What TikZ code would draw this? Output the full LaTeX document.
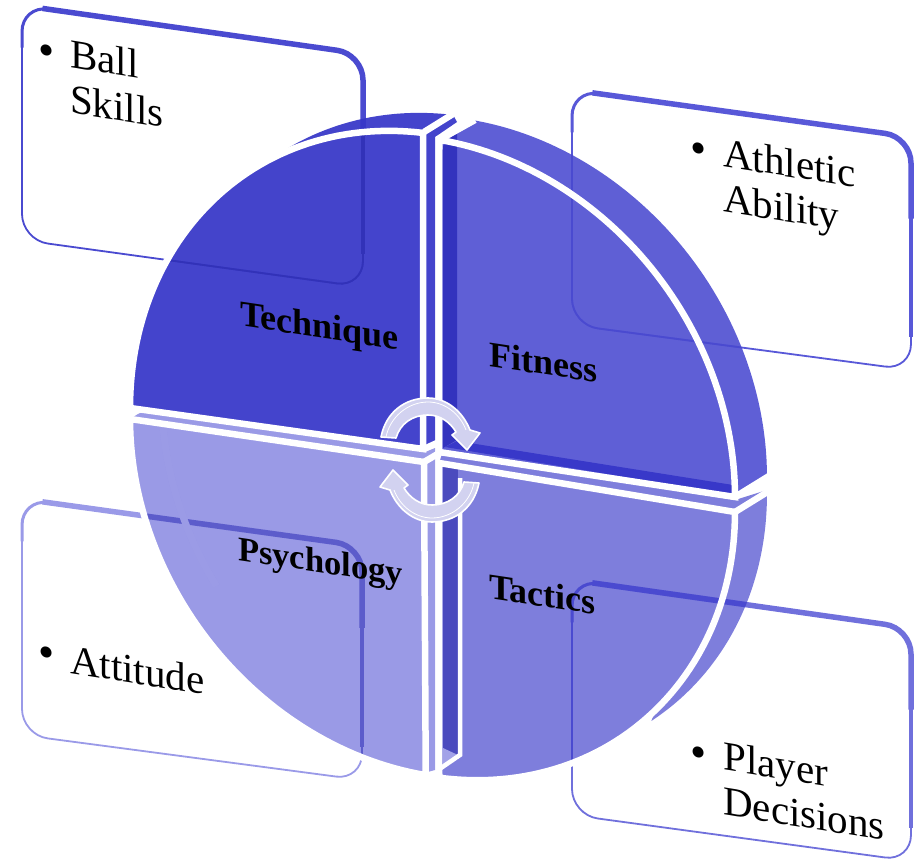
\documentclass[tikz,border=0pt]{standalone}
\usepackage{fontspec}
\usetikzlibrary{calc}
\setmainfont{Liberation Serif}
\definecolor{techc}{HTML}{3636C8}
\definecolor{fitc}{HTML}{5353D3}
\definecolor{psyc}{HTML}{9292E4}
\definecolor{tacc}{HTML}{7474D9}
\definecolor{boxa}{HTML}{4A4AD0}
\definecolor{boxb}{HTML}{9A9AE8}
\definecolor{boxc}{HTML}{5858D8}
\definecolor{boxd}{HTML}{7070DC}
\definecolor{arrowc}{HTML}{D2D2F0}
\newcommand{\rim}[5]{plot[domain=#4:#5,samples=60,variable=\t] ({#1+301*cos(\t)},{#2+#3*sin(\t)+45*cos(\t)})}
\newcommand{\rimto}[5]{-- plot[domain=#4:#5,samples=60,variable=\t] ({#1+301*cos(\t)},{#2+#3*sin(\t)+45*cos(\t)})}
% colour, then corners top left, top right, bottom right, bottom left
\newcommand{\cardlines}[5]{%
  \draw[cardline=#1] #2 -- #3 -- #4 -- #5 -- cycle;
  \draw[cardline=#1,line width=3pt] ($#5!0.82!#2$) -- #2 -- ($#2!0.2!#3$);
  \draw[cardline=#1,line width=5.5pt] ($#2!0.06!#3$) -- #3 -- ($#3!0.35!#4$);
  \draw[cardline=#1,line width=3.6pt] ($#3!0.2!#4$) -- ($#3!0.86!#4$);
}
\tikzset{
  cardline/.style={draw=#1,line width=1.8pt,rounded corners=26pt},
  whiteedge/.style={draw=white,line width=6.5pt,line join=miter},
  cardtext/.style={yslant=-0.16,transform shape,font=\fontsize{41}{45}\selectfont,align=left,anchor=west,text=black,inner sep=0pt},
  cardbullet/.style={yslant=-0.15,transform shape,font=\fontsize{46}{50}\selectfont,text=black,inner sep=0pt},
  pietext/.style={yslant=-0.15,transform shape,font=\fontsize{#1}{40}\selectfont\bfseries,anchor=west,text=black,inner sep=0pt},
  pietext/.default=36,
  spin/.style={fill=arrowc,draw=white,line width=1.6pt,line join=round},
  spinline/.style={draw=white,line width=0.8pt}
}
\begin{document}
\begin{tikzpicture}[x=1pt,y=-1pt]
\useasboundingbox (0,0) rectangle (914,861);
% cards
\fill[white,fill opacity=0.97,rounded corners=26pt] (22,5.5) -- (363,54) -- (363,287) -- (22,240) -- cycle;
\cardlines{boxa}{(22,5.5)}{(363,54)}{(363,287)}{(22,240)}
\fill[white,fill opacity=0.97,rounded corners=26pt] (572,90) -- (911,137) -- (911,370) -- (572,325) -- cycle;
\cardlines{boxc}{(572,90)}{(911,137)}{(911,370)}{(572,325)}
\cardlines{boxb}{(22,499)}{(362,546)}{(362,780)}{(22,735)}
\cardlines{boxd}{(572,580)}{(911,628)}{(911,861)}{(572,815)}
% Psychology
\fill[psyc,fill opacity=0.93]
  (424,462) \rimto{431}{464}{312}{91}{180} -- cycle
  (138,414) -- (147,410) -- (424,452) -- (435,448) -- (435,770) -- (424,773) -- (424,462) -- (130,419) -- cycle;
\begin{scope}
  \clip (424,462) \rimto{431}{464}{312}{91}{180} -- cycle;
  \cardlines{black!20!boxb!75!blue}{(22,499)}{(362,546)}{(362,780)}{(22,735)}
  \draw[draw=psyc!92!white,line width=7pt] \rim{463}{444}{312}{145}{192};
\end{scope}
% Tactics
\fill[tacc,fill opacity=0.93]
  (439,463) \rimto{434}{467}{310}{0}{89} -- cycle
  (735,512) -- (767,492) \rimto{466}{449}{310}{0}{52} -- cycle
  (442,454) -- (735,500) -- (767,490) -- (735,512) -- (439,463) -- cycle;
\begin{scope}
  \clip (439,463) \rimto{434}{467}{310}{0}{89} -- cycle
  (735,512) -- (767,492) \rimto{466}{449}{310}{0}{52} -- cycle;
  \cardlines{boxa}{(572,580)}{(911,628)}{(911,861)}{(572,815)}
\end{scope}
\fill[fill=fitc!90!black] (443,466) rectangle (458,760);
\fill[fill=psyc!85!white] (443,748) -- (458,755) -- (443,765) -- cycle;
\draw[whiteedge,line width=4.5pt] (460,478) -- (460,755) -- (441,768);
% Technique
\fill[techc,fill opacity=0.93]
  \rim{431}{453}{319}{180}{268.5} -- (423,449) -- cycle
  \rim{461}{435}{319}{190}{268.5} -- (457,122) -- (435,137) -- (435,446) -- (424,449) -- cycle;
\begin{scope}
  \clip \rim{431}{453}{319}{180}{268.5} -- (423,449) -- cycle;
  \cardlines{techc!92!black}{(22,5.5)}{(363,54)}{(363,287)}{(22,240)}
\end{scope}
% Fitness
\fill[fitc,fill opacity=0.93]
  \rim{434}{452}{313}{-89}{0} -- (439,452) -- cycle
  (439,140) \rimto{466}{432}{313}{-89}{0} -- (735,497) -- cycle;
\begin{scope}
  \clip \rim{434}{452}{313}{-89}{0} -- (439,452) -- cycle
  (439,140) \rimto{466}{432}{313}{-89}{0} -- (735,497) -- cycle;
  \cardlines{boxa}{(572,90)}{(911,137)}{(911,370)}{(572,325)}
\end{scope}
\fill[fill=techc!95!black] (443,146) -- (457,131) -- (457,440) -- (443,448) -- cycle;
\fill[fill=techc!92!fitc] (445,447) -- (457,441) -- (733,485) -- (733,495) -- cycle;
% white outlines
\draw[whiteedge] (424,462) \rimto{431}{464}{312}{91}{180} -- cycle;
\draw[whiteedge] (439,463) \rimto{434}{467}{310}{0}{89} -- cycle;
\draw[whiteedge] \rim{431}{453}{319}{180}{268.5} -- (423,449) -- cycle;
\draw[whiteedge] \rim{434}{452}{313}{-89}{0} -- (439,452) -- cycle;
\draw[whiteedge] (424,132) -- (453,114);
\draw[whiteedge] (424,449) -- (437,443);
\draw[whiteedge] (439,140) -- (475,120);
\draw[whiteedge] (735,497) -- (769,476);
\draw[whiteedge] (735,512) -- (769,491);
\draw[whiteedge] (424,462) -- (441,452);
% spin arrows
\draw[spin] (381,437) .. controls (386,412) and (405,398) .. (428,398) .. controls (447,398) and (463,412) .. (470,430)
  -- (480,433) -- (467,450) -- (452,435) -- (456,432) .. controls (450,422) and (440,415) .. (428,415)
  .. controls (412,415) and (400,424) .. (396,438) -- cycle;
\draw[spinline] (386,437) .. controls (390,417) and (408,402) .. (428,402) .. controls (445,402) and (460,414) .. (466,430);
\draw[spin] (479,483) .. controls (474,508) and (455,522) .. (432,522) .. controls (413,522) and (397,508) .. (390,490)
  -- (380,487) -- (393,470) -- (408,485) -- (404,488) .. controls (410,498) and (420,505) .. (432,505)
  .. controls (448,505) and (460,496) .. (464,482) -- cycle;
\draw[spinline] (474,483) .. controls (470,503) and (452,518) .. (432,518) .. controls (415,518) and (400,506) .. (394,490);
% labels
\node[cardbullet] (b1) at (47,55) {•};
\node[cardtext] (t1) at (70,76) {Ball\\Skills};
\node[cardbullet] (b2) at (699,153) {•};
\node[cardtext] (t2) at (723,179) {Athletic\\Ability};
\node[cardbullet] (b3) at (47,657) {•};
\node[cardtext] (t3) at (70,659) {Attitude};
\node[cardbullet] (b4) at (699,757) {•};
\node[cardtext] (t4) at (723,778) {Player\\Decisions};
\node[pietext] (n1) at (240,317) {Technique};
\node[pietext] (n2) at (489,354) {Fitness};
\node[pietext=34.5] (n3) at (238,552) {Psychology};
\node[pietext] (n4) at (489,586) {Tactics};
\end{tikzpicture}
\end{document}
